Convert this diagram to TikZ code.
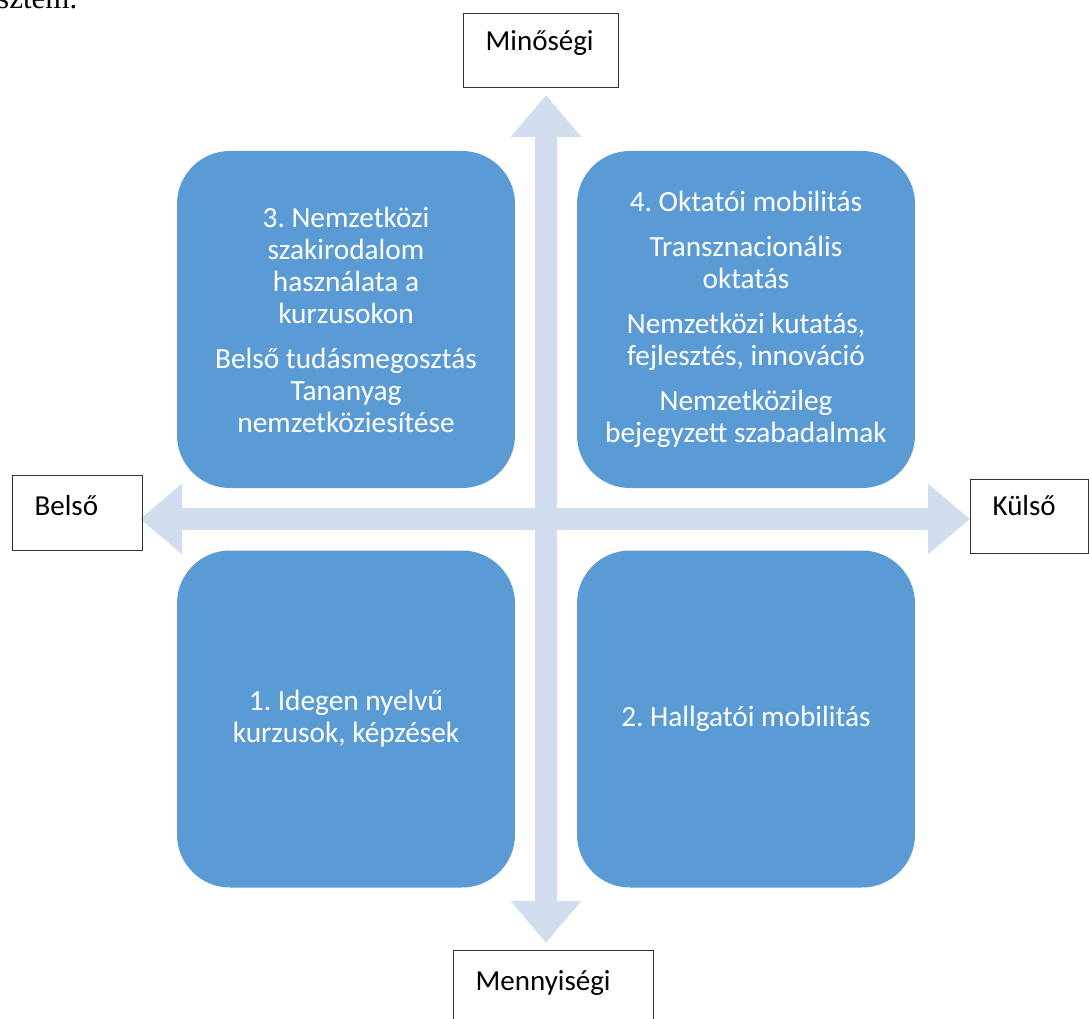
\documentclass[tikz,border=0pt]{standalone}
\usepackage{fontspec}
\setmainfont{Carlito}
\newfontfamily\timesfont{Liberation Serif}
\usetikzlibrary{arrows.meta}
\definecolor{boxblue}{RGB}{91,155,213}
\definecolor{arrowblue}{RGB}{210,222,239}
\begin{document}
\begin{tikzpicture}[x=1pt,y=-1pt,
  quad/.style={fill=boxblue, rounded corners=53pt, minimum width=338pt, minimum height=337pt,
    inner sep=0pt, text=white, align=flush center, text width=320pt,
    font=\fontsize{29.3}{32}\selectfont\frenchspacing},
  axisarrow/.style={draw=arrowblue, line width=22pt,
    {Triangle[length=42pt,width=68pt]}-{Triangle[length=42pt,width=68pt]}},
  labelbox/.style={draw=black!80, line width=1.2pt, inner xsep=22pt, inner ysep=0pt,
    align=flush left, anchor=north west, font=\fontsize{29}{32}\selectfont}]
\clip (0,0) rectangle (1089,1019);
\fill[white] (0,0) rectangle (1089,1019);
% cut-off text from the page above
\node[anchor=base west, inner sep=0pt, font=\timesfont\fontsize{31}{34}\selectfont] (prev) at (-3,9) {sztem.};
% axes
\coordinate (ntip) at (546,95);
\coordinate (stip) at (546,943);
\coordinate (wtip) at (140,519);
\coordinate (etip) at (970,519);
\draw[axisarrow] (stip) -- (ntip);
\draw[axisarrow] (wtip) -- (etip);
% quadrants
\node[quad] (q3) at (346,319.5) {3. Nemzetközi\\szakirodalom\\használata a\\kurzusokon\\[13pt]Belső tudásmegosztás\\Tananyag\\nemzetköziesítése};
\node[quad] (q4) at (746,319.5) {4. Oktatói mobilitás\\[13pt]Transznacionális\\oktatás\\[13pt]Nemzetközi kutatás,\\fejlesztés, innováció\\[13pt]Nemzetközileg\\bejegyzett szabadalmak};
\node[quad] (q1) at (346,719) {1. Idegen nyelvű\\kurzusok, képzések};
\node[quad] (q2) at (746,719) {2. Hallgatói mobilitás};
% axis labels
\node[labelbox, text width=111pt, text height=37pt, text depth=37pt] (mino) at (463,13) {Minőségi};
\node[labelbox, text width=86pt, text height=40pt, text depth=35pt] (bel) at (12,475) {Belső};
\node[labelbox, text width=74pt, text height=36pt, text depth=38pt] (kul) at (970,479) {Külső};
\node[labelbox, text width=156pt, text height=40pt, text depth=34pt] (menny) at (453,950) {Mennyiségi};
\end{tikzpicture}
\end{document}
